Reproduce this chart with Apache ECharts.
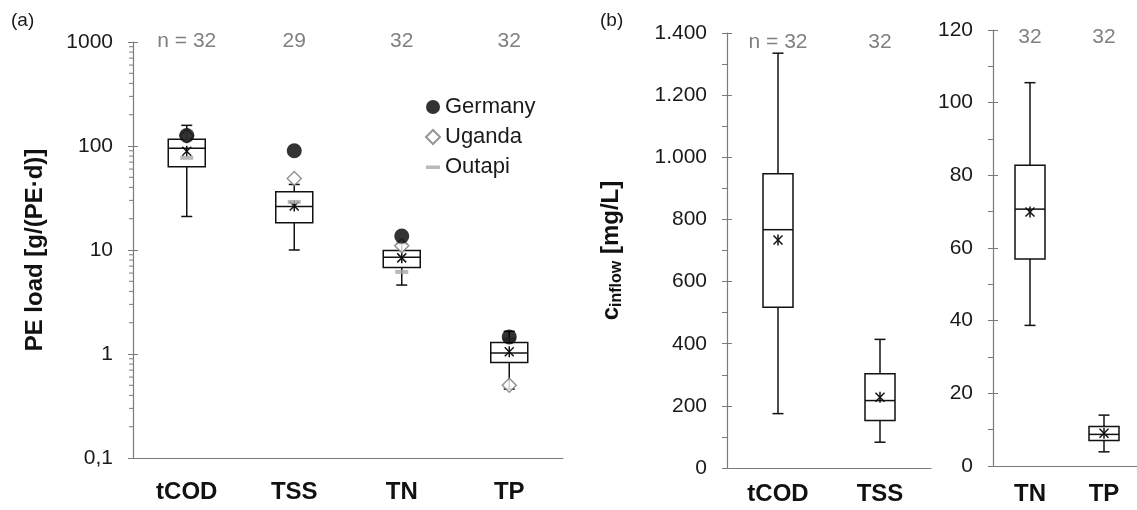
<!DOCTYPE html>
<html>
<head>
<meta charset="utf-8">
<script src="https://cdn.jsdelivr.net/npm/echarts@6/dist/echarts.min.js"></script>
<style>
  html, body { margin: 0; padding: 0; background: #fff; }
  #chart { width: 1137px; height: 510px; }
</style>
</head>
<body>
<div id="chart"></div>
<script>
// (a) per-capita loads, log scale
var catsA = ['tCOD', 'TSS', 'TN', 'TP'];
var nA = [32, 29, 32, 32];
var loadMin = [21, 10, 4.6, 0.46];
var loadQ1 = [63, 18.3, 6.8, 0.83];
var loadMedian = [95, 26.2, 8.5, 1.02];
var loadQ3 = [116, 36.3, 9.9, 1.29];
var loadMax = [158, 42.7, 11.5, 1.65];
var loadMean = [89, 26.5, 8.4, 1.05];
var germany = [126, 90, 13.6, 1.46];
var uganda = [125, 48.7, 11, 0.5];
var outapi = [77, 29, 6.15, 1.38];
var ticksA = ['0,1', '1', '10', '100', '1000'];

// (b) inflow concentrations
var catsB1 = ['tCOD', 'TSS'];
var nB1 = [32, 32];
var concMin = [175, 83];
var concQ1 = [517, 153];
var concMedian = [767, 217];
var concQ3 = [947, 303];
var concMax = [1335, 414];
var concMean = [734, 228];
var ticksB1 = ['0', '200', '400', '600', '800', '1.000', '1.200', '1.400'];

var catsB2 = ['TN', 'TP'];
var nB2 = [32, 32];
var nutMin = [38.7, 3.9];
var nutQ1 = [57, 7.0];
var nutMedian = [70.7, 8.7];
var nutQ3 = [82.8, 10.9];
var nutMax = [105.5, 14];
var nutMean = [69.9, 9.0];

var FONT = '"Liberation Sans", Arial, sans-serif';
var AXIS_GREY = '#7a7a7a';

// minor ticks of the log axis (2..9 in each decade)
var minorLog = [];
[0.1, 1, 10, 100].forEach(function (d) {
    for (var k = 2; k <= 9; k++) minorLog.push([0, +(d * k).toPrecision(3)]);
});

function boxData(mins, q1, med, q3, maxs, means) {
    return mins.map(function (v, i) {
        return [i, v, q1[i], med[i], q3[i], maxs[i], means[i]];
    });
}

function boxRenderer(halfW) {
    return function (params, api) {
        var idx = api.value(0);
        var yMin = api.coord([idx, api.value(1)])[1];
        var yQ1 = api.coord([idx, api.value(2)])[1];
        var pMed = api.coord([idx, api.value(3)]);
        var yQ3 = api.coord([idx, api.value(4)])[1];
        var yMax = api.coord([idx, api.value(5)])[1];
        var yMean = api.coord([idx, api.value(6)])[1];
        var x = pMed[0];
        var cap = 5.5, s = 4.5;
        var st = { stroke: '#111', lineWidth: 1.5 };
        return {
            type: 'group',
            children: [
                { type: 'line', shape: { x1: x, y1: yQ3, x2: x, y2: yMax }, style: st },
                { type: 'line', shape: { x1: x, y1: yQ1, x2: x, y2: yMin }, style: st },
                { type: 'line', shape: { x1: x - cap, y1: yMax, x2: x + cap, y2: yMax }, style: st },
                { type: 'line', shape: { x1: x - cap, y1: yMin, x2: x + cap, y2: yMin }, style: st },
                { type: 'rect', shape: { x: x - halfW, y: yQ3, width: 2 * halfW, height: yQ1 - yQ3 },
                  style: { stroke: '#111', lineWidth: 1.5, fill: '#fff' } },
                { type: 'line', shape: { x1: x - halfW, y1: pMed[1], x2: x + halfW, y2: pMed[1] }, style: st },
                // mean as asterisk
                { type: 'line', shape: { x1: x, y1: yMean - 5.5, x2: x, y2: yMean + 5.5 }, style: st },
                { type: 'line', shape: { x1: x - s, y1: yMean - s, x2: x + s, y2: yMean + s }, style: st },
                { type: 'line', shape: { x1: x - s, y1: yMean + s, x2: x + s, y2: yMean - s }, style: st }
            ]
        };
    };
}

function pairs(arr) {
    return arr.map(function (v, i) { return [i, v]; });
}

function catAxis(grid, cats, margin) {
    return {
        type: 'category', gridIndex: grid, data: cats,
        axisLine: { lineStyle: { color: AXIS_GREY, width: 1.2 } },
        axisTick: { length: 6, lineStyle: { color: AXIS_GREY } },
        axisLabel: { fontFamily: FONT, fontSize: 24, fontWeight: 'bold', color: '#111', margin: margin }
    };
}

function nAxis(grid, counts, margin) {
    return {
        type: 'category', gridIndex: grid, position: 'top', data: counts,
        axisLine: { show: false }, axisTick: { show: false },
        axisLabel: {
            fontFamily: FONT, fontSize: 21, color: '#808080', margin: margin,
            formatter: function (v, i) { return (grid !== 2 && i === 0) ? 'n = ' + v : v; }
        }
    };
}

function innerTicks(grid, base) {
    return Object.assign({
        gridIndex: grid, position: 'left',
        axisLine: { show: false }, axisLabel: { show: false }, splitLine: { show: false },
        axisTick: { show: true, inside: true, length: 5, lineStyle: { color: AXIS_GREY } }
    }, base);
}

var yLabel = { fontFamily: FONT, fontSize: 21, color: '#1a1a1a', margin: 20 };
var titleStyle = { fontFamily: FONT, fontSize: 24, fontWeight: 'bold', color: '#111' };

// thin grey dash as legend icon (corner specks keep a square bounding box)
var dashIcon = 'path://M0,5.5h14v3.5h-14zM0,0h0.01v0.01h-0.01zM14,14h-0.01v-0.01h0.01z';

var option = {
    backgroundColor: '#fff',
    animation: false,
    textStyle: { fontFamily: FONT },
    title: [
        { text: '(a)', left: 6, top: 6, textStyle: { fontFamily: FONT, fontSize: 19, fontWeight: 'normal', color: '#1a1a1a' } },
        { text: '(b)', left: 595, top: 6, textStyle: { fontFamily: FONT, fontSize: 19, fontWeight: 'normal', color: '#1a1a1a' } }
    ],
    legend: {
        orient: 'vertical', left: 420, top: 91, itemWidth: 14, itemHeight: 14, itemGap: 8,
        textStyle: { fontFamily: FONT, fontSize: 22, color: '#1a1a1a' },
        data: [
            { name: 'Germany', icon: 'circle' },
            { name: 'Uganda', icon: 'diamond' },
            { name: 'Outapi', icon: dashIcon }
        ]
    },
    grid: [
        { left: 133, top: 42, width: 430, height: 416, containLabel: false, outerBoundsMode: 'none' },
        { left: 727, top: 33, width: 204, height: 435, containLabel: false, outerBoundsMode: 'none' },
        { left: 993, top: 30, width: 148, height: 436, containLabel: false, outerBoundsMode: 'none' }
    ],
    xAxis: [
        catAxis(0, catsA, 22),
        catAxis(1, catsB1, 14),
        catAxis(2, catsB2, 16),
        nAxis(0, nA, -10),
        nAxis(1, nB1, -20),
        nAxis(2, nB2, -18)
    ],
    yAxis: [
        {
            type: 'log', logBase: 10, gridIndex: 0, min: 0.1, max: 1000,
            name: 'PE load [g/(PE\u00b7d)]', nameLocation: 'middle', nameGap: 86,
            nameTextStyle: titleStyle,
            axisLine: { show: true, lineStyle: { color: AXIS_GREY, width: 1.2 } },
            axisTick: { show: true, length: 5, lineStyle: { color: AXIS_GREY } },
            splitLine: { show: false },
            axisLabel: Object.assign({}, yLabel, {
                formatter: function (v) { return ticksA[Math.round(Math.log10(v)) + 1]; }
            })
        },
        {
            type: 'value', gridIndex: 1, min: 0, max: 1400, interval: 200,
            name: '{m|c}{s|inflow}{m| [mg/L]}', nameLocation: 'middle', nameGap: 101,
            nameTextStyle: {
                rich: {
                    m: Object.assign({ lineHeight: 30 }, titleStyle),
                    s: { fontFamily: FONT, fontSize: 16, fontWeight: 'bold', color: '#111', lineHeight: 30, padding: [11, 0, 0, 0] }
                }
            },
            axisLine: { show: true, lineStyle: { color: AXIS_GREY, width: 1.2 } },
            axisTick: { show: true, length: 5, lineStyle: { color: AXIS_GREY } },
            minorTick: { show: true, splitNumber: 2, length: 5, lineStyle: { color: AXIS_GREY } },
            splitLine: { show: false },
            axisLabel: Object.assign({}, yLabel, {
                formatter: function (v) { return ticksB1[Math.round(v / 200)]; }
            })
        },
        {
            type: 'value', gridIndex: 2, min: 0, max: 120, interval: 20,
            axisLine: { show: true, lineStyle: { color: AXIS_GREY, width: 1.2 } },
            axisTick: { show: true, length: 5, lineStyle: { color: AXIS_GREY } },
            minorTick: { show: true, splitNumber: 2, length: 5, lineStyle: { color: AXIS_GREY } },
            splitLine: { show: false },
            axisLabel: yLabel
        },
        innerTicks(0, { type: 'log', logBase: 10, min: 0.1, max: 1000 }),
        innerTicks(1, { type: 'value', min: 0, max: 1400, interval: 200 }),
        innerTicks(2, { type: 'value', min: 0, max: 120, interval: 20 })
    ],
    series: [
        {
            type: 'custom', name: 'minorLog', xAxisIndex: 0, yAxisIndex: 0, silent: true, clip: false,
            data: minorLog,
            renderItem: function (params, api) {
                var y = api.coord([0, api.value(1)])[1];
                var x0 = params.coordSys.x;
                return { type: 'line', shape: { x1: x0 - 4, y1: y, x2: x0, y2: y },
                         style: { stroke: AXIS_GREY, lineWidth: 1 } };
            }
        },
        {
            type: 'custom', name: 'loads', xAxisIndex: 0, yAxisIndex: 0, silent: true,
            data: boxData(loadMin, loadQ1, loadMedian, loadQ3, loadMax, loadMean),
            renderItem: boxRenderer(18.5)
        },
        {
            type: 'custom', name: 'conc', xAxisIndex: 1, yAxisIndex: 1, silent: true,
            data: boxData(concMin, concQ1, concMedian, concQ3, concMax, concMean),
            renderItem: boxRenderer(15)
        },
        {
            type: 'custom', name: 'nutrients', xAxisIndex: 2, yAxisIndex: 2, silent: true,
            data: boxData(nutMin, nutQ1, nutMedian, nutQ3, nutMax, nutMean),
            renderItem: boxRenderer(15)
        },
        {
            type: 'scatter', name: 'Outapi', xAxisIndex: 0, yAxisIndex: 0, z: 5,
            symbol: 'rect', symbolSize: [13, 4],
            itemStyle: { color: '#a8a8a8' },
            data: pairs(outapi)
        },
        {
            type: 'scatter', name: 'Uganda', xAxisIndex: 0, yAxisIndex: 0, z: 6,
            symbol: 'diamond', symbolSize: 14,
            itemStyle: { color: '#fff', borderColor: '#7a7a7a', borderWidth: 1.5 },
            data: pairs(uganda)
        },
        {
            type: 'scatter', name: 'Germany', xAxisIndex: 0, yAxisIndex: 0, z: 7,
            symbol: 'circle', symbolSize: 15,
            itemStyle: { color: '#000' },
            data: pairs(germany)
        }
    ]
};

var myChart = echarts.init(document.getElementById('chart'), null, { renderer: 'canvas' });
myChart.setOption(option);
</script>
</body>
</html>
